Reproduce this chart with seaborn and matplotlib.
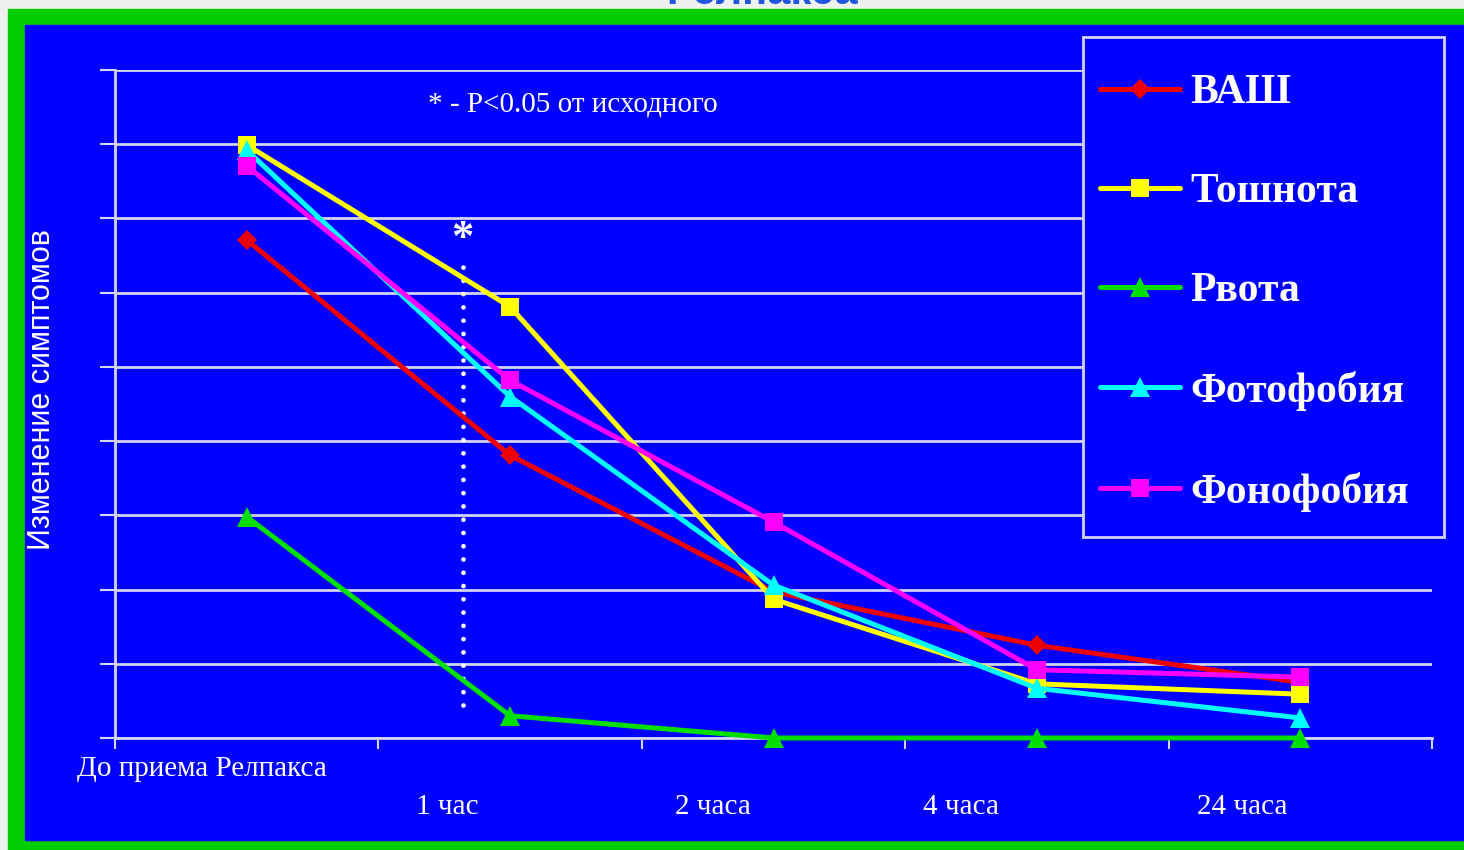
import matplotlib
matplotlib.use("Agg")
import matplotlib.pyplot as plt
from matplotlib.patches import Rectangle
from matplotlib.transforms import blended_transform_factory
import numpy as np
import pandas as pd
import seaborn as sns

# --- data -------------------------------------------------------------
timepoints = ["До приема Релпакса", "1 час", "2 часа", "4 часа", "24 часа"]
vas = [6.71, 3.81, 1.97, 1.25, 0.75]          # ВАШ
nausea = [7.99, 5.81, 1.87, 0.73, 0.59]       # Тошнота
vomiting = [2.98, 0.30, 0.0, 0.0, 0.0]        # Рвота
photophobia = [7.92, 4.60, 2.06, 0.67, 0.27]  # Фотофобия
phonophobia = [7.71, 4.82, 2.91, 0.92, 0.82]  # Фонофобия

series_names = ["ВАШ", "Тошнота", "Рвота", "Фотофобия", "Фонофобия"]
series_values = [vas, nausea, vomiting, photophobia, phonophobia]

# significance marker between baseline and 1 hour
signif_x = 0.82
signif_span = (0.45, 6.5)
signif_note = "* - P<0.05 от исходного"

# --- styles -----------------------------------------------------------
colors = ["#EE0000", "#FFFF00", "#00E000", "#00FFFF", "#FF00FF"]
markers = ["D", "s", "^", "^", "s"]
msizes = [10, 13, 15, 15, 13]
label_shift = [-0.17, -0.24, -0.23, -0.29, -0.22]
label_row = [0, 1, 1, 1, 1]

BLUE = "#0000FF"
GRID = "#D4D4F4"
W, H = 1464, 850

sns.set_style("white")
plt.rcParams["font.family"] = ["Liberation Serif", "DejaVu Sans"]

rows = []
for name, vals in zip(series_names, series_values):
    for i, v in enumerate(vals):
        rows.append({"series": name, "pos": i, "value": v})
df = pd.DataFrame(rows)

fig = plt.figure(figsize=(W / 100, H / 100), dpi=100, facecolor="#EEF2EE")

# slide frame: green border and blue panel, on a background layer
bg = fig.add_axes([0, 0, 1, 1], zorder=-1)
bg.set_xlim(0, W)
bg.set_ylim(H, 0)
bg.axis("off")
bg.add_patch(Rectangle((8, 9), W - 8, H - 9, color="#00CC00"))
bg.add_patch(Rectangle((25, 25), W - 25, 840 - 25, color=BLUE))

# slide title, mostly above the visible area
fig.text(762 / W, 1 - 4 / H, "Релпакса", ha="center", va="baseline",
         fontsize=30, fontweight="bold", color="#2255DD",
         family=["Liberation Sans", "DejaVu Sans"])

ax = fig.add_axes([115 / W, 112 / H, 1317 / W, 668 / H])
ax.patch.set_alpha(0)

for name, col, mk, ms in zip(series_names, colors, markers, msizes):
    sns.lineplot(data=df[df["series"] == name], x="pos", y="value", ax=ax,
                 color=col, marker=mk, markersize=ms, markeredgewidth=0,
                 linewidth=3.6, label=name, zorder=3, clip_on=False)

ax.set_xlim(-0.5, len(timepoints) - 0.5)
ax.set_ylim(0, 9)
ax.set_yticks(np.arange(0, 10))
ax.set_yticklabels([])
ax.set_xticks(np.arange(-0.5, len(timepoints)))
ax.set_xticklabels([])
ax.set_xlabel("")
ax.set_ylabel("")
ax.yaxis.grid(True, color=GRID, linewidth=2)
ax.xaxis.grid(False)
for side in ("top", "right"):
    ax.spines[side].set_visible(False)
for side in ("left", "bottom"):
    ax.spines[side].set_color(GRID)
    ax.spines[side].set_linewidth(2)
ax.tick_params(axis="y", direction="out", length=11, width=1.5, color=GRID, left=True)
ax.tick_params(axis="x", direction="out", length=8, width=1.5, color=GRID, bottom=True)

# category labels under the axis
trans = blended_transform_factory(ax.transData, ax.transAxes)
row_y = [-0.047, -0.103]
for i, (lab, sh, r) in enumerate(zip(timepoints, label_shift, label_row)):
    ax.text(i + sh, row_y[r], lab, transform=trans, ha="center", va="center",
            color="white", fontsize=21, clip_on=False)

# significance marker and note
ax.plot([signif_x, signif_x], list(signif_span), color="white", linewidth=3.4,
        linestyle=(0, (0.01, 2.8)), dash_capstyle="round", zorder=2)
ax.text(signif_x, 6.72, "*", ha="center", va="center", color="white",
        fontsize=32, fontweight="bold")
ax.text(0.69, 8.53, signif_note, ha="left", va="center", color="white",
        fontsize=21)

fig.text(42 / W, 1 - 390 / H, "Изменение симптомов", rotation=90,
         ha="center", va="center", color="white", fontsize=22,
         family=["Liberation Sans", "DejaVu Sans"])

# legend box, drawn over the grid
ax.add_patch(Rectangle((1083 / W, 1 - 537 / H), 361 / W, 500 / H,
                       transform=fig.transFigure, facecolor=BLUE,
                       edgecolor=GRID, linewidth=2, clip_on=False, zorder=4))
leg = ax.legend(loc="upper left", bbox_to_anchor=(1100 / W, 1 - 74 / H),
                bbox_transform=fig.transFigure, borderaxespad=0, borderpad=0,
                numpoints=1, handlelength=1.92, handletextpad=0.24,
                labelspacing=1.46, frameon=False, labelcolor="white",
                prop={"family": "Liberation Serif", "weight": "bold", "size": 30})
leg.set_zorder(5)

fig.savefig("out.png", dpi=100, facecolor=fig.get_facecolor())
